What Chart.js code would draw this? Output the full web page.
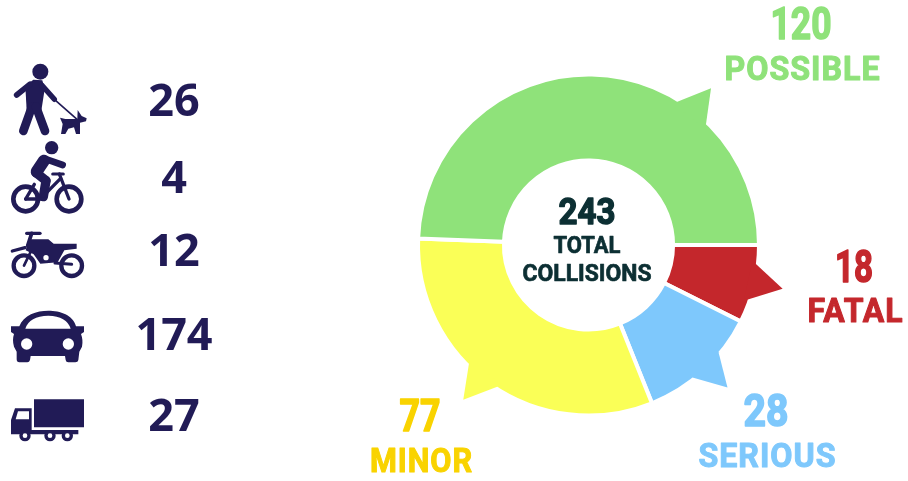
<!DOCTYPE html>
<html>
<head>
<meta charset="utf-8">
<title>Collisions</title>
<script src="https://cdn.jsdelivr.net/npm/chart.js@4"></script>
<style>
  html, body { margin: 0; background: #fff; }
  canvas { display: block; }
</style>
</head>
<body>
<canvas id="myChart" width="908" height="481"></canvas>
<script>
const categories = ['FATAL', 'SERIOUS', 'MINOR', 'POSSIBLE'];
const values = [18, 28, 77, 120];
const sliceColors = ['#c4272c', '#7ec8fc', '#faff57', '#8fe27a'];
const textColors = ['#c4272c', '#7ec8fc', '#f9d300', '#8fe27a'];
const totalLabel = ['243', 'TOTAL', 'COLLISIONS'];
const vehicleCounts = ['26', '4', '12', '174', '27'];

const navy = '#211b56';
const dark = '#0c2f33';
const fontName = 'Roboto, sans-serif';

// spike on each slice: degrees clockwise from 3 o'clock
const spikeAngles = [12.7, 45.7, 129, 308];

// x centre, baseline, squeezed width for number and word of each category
const labelSpots = [
  [854, 282, 38, 855.5, 322, 96],
  [766, 426, 45, 767.5, 467, 138],
  [420, 431, 41, 421.5, 472, 103],
  [801, 39, 61, 802.5, 80, 156]
];
const countBaselines = [116, 193, 266, 350, 431];

function line(ctx, w, pts) {
  ctx.lineWidth = w;
  ctx.beginPath();
  pts.forEach((p, i) => i ? ctx.lineTo(p[0], p[1]) : ctx.moveTo(p[0], p[1]));
  ctx.stroke();
}
function poly(ctx, pts) {
  ctx.beginPath();
  pts.forEach((p, i) => i ? ctx.lineTo(p[0], p[1]) : ctx.moveTo(p[0], p[1]));
  ctx.closePath();
  ctx.fill();
}
function dot(ctx, x, y, r) {
  ctx.beginPath();
  ctx.arc(x, y, r, 0, Math.PI * 2);
  ctx.fill();
}
function ring(ctx, x, y, r, w) {
  ctx.lineWidth = w;
  ctx.beginPath();
  ctx.arc(x, y, r, 0, Math.PI * 2);
  ctx.stroke();
}
// fill plus thin outline, the reference type is heavier than squeezed Roboto
function heavyText(ctx, text, x, y, w, extra) {
  ctx.lineWidth = extra;
  ctx.strokeText(text, x, y, w);
  ctx.fillText(text, x, y, w);
}

// icons are sketched at 3x, in the coordinates of a crop of that area
const icons = [
  function walker(ctx) {
    dot(ctx, 121, 65, 24);
    poly(ctx, [[76, 108], [100, 89], [127, 91], [134, 118], [124, 182], [80, 182]]);
    line(ctx, 26, [[96, 170], [70, 243]]);
    line(ctx, 26, [[108, 170], [135, 243]]);
    line(ctx, 17, [[90, 103], [50, 135]]);
    line(ctx, 16, [[125, 105], [163, 148]]);
    line(ctx, 5, [[163, 148], [238, 214]]);
    poly(ctx, [[180, 203], [196, 207], [232, 207], [233, 180], [245, 198], [260, 205], [258, 214], [240, 218], [240, 252], [228, 252], [222, 232], [205, 236], [196, 252], [183, 252], [188, 222]]);
  },
  function cyclist(ctx) {
    dot(ctx, 155, 293, 20);
    ring(ctx, 77, 447, 37, 14);
    ring(ctx, 207, 447, 37, 14);
    line(ctx, 36, [[132, 332], [110, 365]]);
    line(ctx, 20, [[140, 328], [188, 345]]);
    line(ctx, 28, [[108, 368], [138, 392]]);
    line(ctx, 28, [[138, 392], [130, 440]]);
    line(ctx, 9, [[158, 372], [190, 372]]);
    line(ctx, 10, [[178, 372], [207, 447]]);
    line(ctx, 10, [[128, 440], [182, 385]]);
    line(ctx, 10, [[77, 447], [135, 447]]);
    line(ctx, 10, [[77, 447], [103, 403]]);
  },
  function motorcycle(ctx) {
    ring(ctx, 57, 122, 31, 13);
    ring(ctx, 200, 122, 31, 13);
    line(ctx, 8, [[57, 122], [82, 70]]);
    line(ctx, 10, [[65, 25], [105, 25]]);
    line(ctx, 11, [[80, 25], [68, 62]]);
    line(ctx, 10, [[22, 78], [60, 68]]);
    poly(ctx, [[72, 43], [130, 43], [146, 56], [215, 56], [215, 71], [178, 76], [158, 112], [106, 116], [86, 88], [62, 76]]);
    line(ctx, 9, [[150, 114], [200, 118]]);
    ctx.fillStyle = '#fff';
    dot(ctx, 123, 98, 8);
  },
  function car(ctx) {
    ctx.beginPath();
    ctx.moveTo(33, 229);
    ctx.lineTo(58, 229);
    ctx.bezierCurveTo(70, 195, 110, 182, 145, 182);
    ctx.bezierCurveTo(180, 182, 220, 195, 228, 229);
    ctx.lineTo(252, 229);
    ctx.lineTo(252, 246);
    ctx.lineTo(243, 252);
    ctx.quadraticCurveTo(250, 270, 246, 290);
    ctx.lineTo(238, 305);
    ctx.lineTo(235, 330);
    ctx.quadraticCurveTo(234, 337, 226, 337);
    ctx.lineTo(205, 337);
    ctx.quadraticCurveTo(198, 337, 197, 330);
    ctx.lineTo(195, 318);
    ctx.lineTo(92, 318);
    ctx.lineTo(90, 330);
    ctx.quadraticCurveTo(88, 337, 82, 337);
    ctx.lineTo(58, 337);
    ctx.quadraticCurveTo(50, 337, 50, 328);
    ctx.lineTo(50, 305);
    ctx.lineTo(42, 290);
    ctx.quadraticCurveTo(36, 270, 42, 252);
    ctx.lineTo(33, 246);
    ctx.closePath();
    ctx.fill();
    ctx.fillStyle = '#fff';
    ctx.beginPath();
    ctx.moveTo(76, 236);
    ctx.quadraticCurveTo(88, 198, 145, 197);
    ctx.quadraticCurveTo(200, 198, 212, 236);
    ctx.closePath();
    ctx.fill();
    dot(ctx, 80, 282, 17);
    dot(ctx, 205, 282, 17);
  },
  function truck(ctx) {
    poly(ctx, [[102, 448], [252, 448], [252, 532], [102, 532]]);
    poly(ctx, [[33, 510], [45, 475], [95, 475], [95, 540], [235, 540], [235, 553], [33, 553]]);
    dot(ctx, 75, 557, 17);
    dot(ctx, 150, 557, 17);
    dot(ctx, 202, 557, 17);
    ctx.fillStyle = '#fff';
    poly(ctx, [[47, 508], [54, 484], [87, 484], [87, 508]]);
    dot(ctx, 75, 557, 7);
    dot(ctx, 150, 557, 7);
    dot(ctx, 202, 557, 7);
  }
];
// crop origin of each icon
const iconOrigins = [[0, 50], [0, 50], [5, 225], [0, 250], [0, 250]];

const spikePlugin = {
  id: 'spikes',
  afterDatasetsDraw(chart) {
    const ctx = chart.ctx;
    chart.getDatasetMeta(0).data.forEach((arc, i) => {
      const rim = arc.outerRadius - 2;
      const mid = spikeAngles[i] * Math.PI / 180;
      const half = 6.2 * Math.PI / 180;
      const at = (a, r) => [arc.x + Math.cos(a) * r, arc.y + Math.sin(a) * r];
      ctx.save();
      ctx.fillStyle = sliceColors[i];
      poly(ctx, [at(mid - half, rim - 4), at(mid - half, rim), at(mid, rim + 30.5), at(mid + half, rim), at(mid + half, rim - 4)]);
      ctx.restore();
    });
  }
};

const textPlugin = {
  id: 'texts',
  afterDraw(chart) {
    const ctx = chart.ctx;
    ctx.save();
    ctx.textAlign = 'center';
    ctx.textBaseline = 'alphabetic';
    ctx.lineJoin = 'round';

    categories.forEach((name, i) => {
      const s = labelSpots[i];
      ctx.fillStyle = textColors[i];
      ctx.strokeStyle = textColors[i];
      ctx.font = 'bold 45px ' + fontName;
      heavyText(ctx, String(values[i]), s[0], s[1] - 0.5, s[2], 1.6);
      ctx.letterSpacing = '1px';
      ctx.font = 'bold 33px ' + fontName;
      heavyText(ctx, name, s[3], s[4] - 0.5, s[5], 1);
      ctx.letterSpacing = '0px';
    });

    ctx.fillStyle = dark;
    ctx.strokeStyle = dark;
    ctx.font = 'bold 37px ' + fontName;
    heavyText(ctx, totalLabel[0], 587, 223.5, 57, 1.4);
    ctx.font = 'bold 24px ' + fontName;
    heavyText(ctx, totalLabel[1], 587, 252.5, 67, 0.7);
    heavyText(ctx, totalLabel[2], 587, 280.5, 129, 0.7);

    ctx.fillStyle = navy;
    ctx.font = 'bold 45px "Open Sans", sans-serif';
    vehicleCounts.forEach((c, i) => {
      ctx.fillText(c, 174, countBaselines[i]);
    });
    ctx.restore();

    icons.forEach((draw, i) => {
      ctx.save();
      ctx.translate(iconOrigins[i][0], iconOrigins[i][1]);
      ctx.scale(1 / 3, 1 / 3);
      ctx.fillStyle = navy;
      ctx.strokeStyle = navy;
      ctx.lineCap = 'round';
      ctx.lineJoin = 'round';
      draw(ctx);
      ctx.restore();
    });
  }
};

const config = {
  type: 'doughnut',
  data: {
    labels: categories,
    datasets: [{
      data: values,
      backgroundColor: sliceColors,
      borderColor: '#ffffff',
      borderWidth: 4,
      hoverOffset: 0
    }]
  },
  options: {
    responsive: false,
    animation: false,
    rotation: 90,
    cutout: '49.6%',
    layout: { padding: { left: 416, right: 147, top: 72.5, bottom: 63.5 } },
    plugins: {
      legend: { display: false },
      tooltip: { enabled: false }
    }
  },
  plugins: [spikePlugin, textPlugin]
};

var thisChart = new Chart(document.getElementById('myChart'), config);
</script>
</body>
</html>
